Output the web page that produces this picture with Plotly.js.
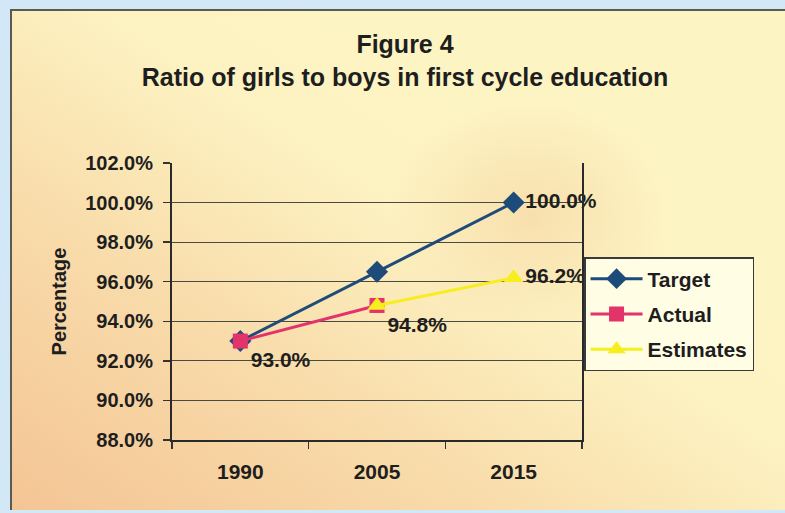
<!DOCTYPE html>
<html>
<head>
<meta charset="utf-8">
<script src="https://cdn.plot.ly/plotly-3.0.1.min.js"></script>
<style>
  html, body { margin: 0; padding: 0; }
  body { width: 785px; height: 513px; position: relative; overflow: hidden; background: #d3e8f6; }
  #frame {
    position: absolute; left: 10px; top: 9px; width: 775px; height: 501px;
    border-left: 2px solid #5a5a52; border-top: 2px solid #5a5a52;
    box-sizing: border-box;
    background:
      radial-gradient(ellipse 140px 120px at 520px 205px, rgba(240,195,140,0.4), rgba(240,195,140,0) 100%),
      linear-gradient(to top right, rgba(244,194,146,0.95) 0%, rgba(247,210,160,0.75) 30%, rgba(252,234,185,0.25) 55%, rgba(254,246,200,0) 72%),
      #fdf4c4;
  }
  #chart { position: absolute; left: 0; top: 0; width: 785px; height: 513px; }
</style>
</head>
<body>
<div id="frame"></div>
<div id="chart"></div>
<script>
// ---- data ----
const years = ['1990', '2005', '2015'];
const targetValues = [93.0, 96.5, 100.0];
const targetLabels = ['', '', '100.0%'];
const actualYears = ['1990', '2005'];
const actualValues = [93.0, 94.8];
const actualLabels = ['93.0%', '94.8%'];
const estimateYears = ['2005', '2015'];
const estimateValues = [94.8, 96.2];
const estimateLabels = ['', '96.2%'];
const yTicks = [88, 90, 92, 94, 96, 98, 100, 102];
const yTickText = ['88.0%', '90.0%', '92.0%', '94.0%', '96.0%', '98.0%', '100.0%', '102.0%'];

const FONT = 'Arial, "Liberation Sans", sans-serif';
const TXT = '#1e1e1e';

const traces = [
  {
    name: 'Target', x: years, y: targetValues, text: targetLabels,
    type: 'scatter', mode: 'lines+markers+text', legendgroup: 'a',
    line: { color: '#1d4b7a', width: 3 },
    marker: { symbol: 'diamond', size: 17, color: '#1d4b7a' },
    textposition: 'middle right', cliponaxis: false,
    textfont: { family: FONT, size: 21, color: TXT, weight: 'bold' }
  },
  {
    name: 'Actual', x: actualYears, y: actualValues, text: actualLabels,
    type: 'scatter', mode: 'lines+markers+text', legendgroup: 'b',
    line: { color: '#e2336b', width: 3 },
    marker: { symbol: 'square', size: 15, color: '#e2336b' },
    textposition: 'bottom right', cliponaxis: false,
    textfont: { family: FONT, size: 21, color: TXT, weight: 'bold' }
  },
  {
    name: 'Estimates', x: estimateYears, y: estimateValues, text: estimateLabels,
    type: 'scatter', mode: 'lines+markers+text', legendgroup: 'c',
    line: { color: '#f6ee1e', width: 3 },
    marker: { symbol: 'triangle-up', size: 17, color: '#f6ee1e' },
    textposition: 'middle right', cliponaxis: false,
    textfont: { family: FONT, size: 21, color: TXT, weight: 'bold' }
  }
];

const layout = {
  width: 785, height: 513,
  paper_bgcolor: 'rgba(0,0,0,0)', plot_bgcolor: 'rgba(0,0,0,0)',
  margin: { l: 172, r: 203, t: 163, b: 73, pad: 0 },
  font: { family: FONT, color: TXT },
  title: {
    text: '<b>Figure 4</b><br><b>Ratio of girls to boys in first cycle education</b>',
    font: { family: FONT, size: 25, color: TXT },
    x: 405 / 785, xanchor: 'center', xref: 'container',
    y: 1 - 53 / 513, yanchor: 'top'
  },
  xaxis: {
    type: 'category', range: [-0.5, 2.5], fixedrange: true,
    tickson: 'boundaries', ticks: 'outside', ticklen: 7, tickwidth: 1.5, tickcolor: '#333',
    showline: true, linecolor: '#2a2a2a', linewidth: 2,
    showgrid: false, zeroline: false,
    tickfont: { family: FONT, size: 21, color: TXT, weight: 'bold' },
    ticklabelstandoff: 12, automargin: false
  },
  yaxis: {
    range: [88, 102], tickmode: 'array', tickvals: yTicks, ticktext: yTickText,
    ticks: 'outside', ticklen: 7, tickwidth: 1.5, tickcolor: '#333',
    showline: true, linecolor: '#2a2a2a', linewidth: 2, mirror: true,
    showgrid: true, gridcolor: '#4a4a44', gridwidth: 1, zeroline: false,
    tickfont: { family: FONT, size: 20, color: TXT, weight: 'bold' },
    ticklabelstandoff: 6, automargin: false,
    title: { text: '<b>Percentage</b>', font: { family: FONT, size: 20, color: TXT }, standoff: 13 }
  },
  showlegend: true,
  legend: {
    x: 1.005, xanchor: 'left', y: (440 - 257) / 277, yanchor: 'top',
    bgcolor: '#fffde4', bordercolor: '#3a3a3a', borderwidth: 1.5,
    font: { family: FONT, size: 21, color: TXT, weight: 'bold' },
    traceorder: 'grouped', tracegroupgap: 5, itemwidth: 52
  }
};

Plotly.newPlot('chart', traces, layout, { displayModeBar: false, staticPlot: true });
</script>
</body>
</html>
